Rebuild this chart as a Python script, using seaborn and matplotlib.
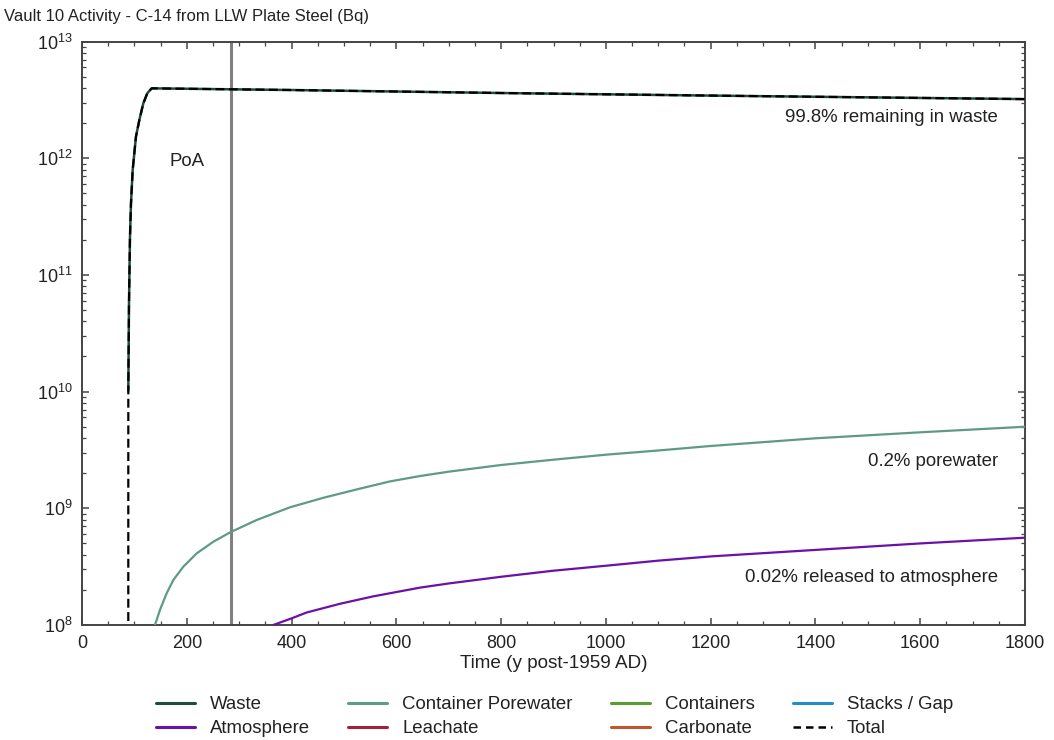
import numpy as np
import pandas as pd
import matplotlib
matplotlib.use("Agg")
import matplotlib.pyplot as plt
import seaborn as sns
from matplotlib.lines import Line2D
from matplotlib.ticker import LogLocator, MultipleLocator, NullFormatter

# ---- data ----
waste_years = [88.4, 89.7, 91.6, 93.5, 96.7, 103, 109.4, 117, 124.6, 133, 400, 800, 1200, 1800]
waste_vals = [1.02e10, 5.7e10, 2.12e11, 4.1e11, 7.9e11, 1.53e12, 2.12e12, 2.95e12, 3.6e12, 3.97e12,
              3.84e12, 3.62e12, 3.44e12, 3.21e12]

total_years = [88.3, 88.4, 89.7, 91.6, 93.5, 96.7, 103, 109.4, 117, 124.6, 133, 400, 800, 1200, 1800]
total_vals = [1e6, 1.02e10, 5.7e10, 2.12e11, 4.1e11, 7.9e11, 1.53e12, 2.12e12, 2.95e12, 3.6e12, 3.97e12,
              3.84e12, 3.62e12, 3.44e12, 3.21e12]

pore_years = [139.3, 148.9, 161.6, 174.3, 193.4, 218.9, 250.6, 283, 333.4, 397, 460.5, 524, 587.8,
              645, 700, 800, 900, 1000, 1100, 1200, 1400, 1600, 1800]
pore_vals = [1.0e8, 1.35e8, 1.87e8, 2.43e8, 3.16e8, 4.11e8, 5.17e8, 6.23e8, 7.94e8, 1.02e9, 1.23e9,
             1.45e9, 1.70e9, 1.89e9, 2.06e9, 2.35e9, 2.61e9, 2.88e9, 3.13e9, 3.42e9, 3.98e9, 4.48e9,
             5.0e9]

atm_years = [365, 400, 428.8, 492.4, 556, 645, 700, 800, 900, 1000, 1100, 1200, 1400, 1600, 1800]
atm_vals = [1.0e8, 1.14e8, 1.28e8, 1.52e8, 1.76e8, 2.09e8, 2.27e8, 2.59e8, 2.92e8, 3.22e8, 3.56e8,
            3.87e8, 4.4e8, 5.0e8, 5.6e8]

legend_labels = ["Waste", "Atmosphere", "Container Porewater", "Leachate",
                 "Containers", "Carbonate", "Stacks / Gap", "Total"]
poa_year = 284

title = "Vault 10 Activity - C-14 from LLW Plate Steel (Bq)"
xlabel = "Time (y post-1959 AD)"

# ---- style ----
sns.set_theme(style="ticks")
plt.rcParams["font.family"] = ["Liberation Sans", "DejaVu Sans"]
plt.rcParams["mathtext.fontset"] = "custom"
plt.rcParams["mathtext.rm"] = "Liberation Sans"
plt.rcParams["mathtext.it"] = "Liberation Sans"
plt.rcParams["mathtext.default"] = "regular"

colors = {
    "Waste": "#1e4d3e",
    "Container Porewater": "#5f9a88",
    "Containers": "#5a9e32",
    "Stacks / Gap": "#1f8fc6",
    "Atmosphere": "#6d10a8",
    "Leachate": "#a3213f",
    "Carbonate": "#c0572b",
    "Total": "black",
}

fig = plt.figure(figsize=(10.54, 7.40), dpi=100)
ax = fig.add_axes([0.0778, 0.1554, 0.9725 - 0.0778, 0.9439 - 0.1554])

ax.axvline(poa_year, color="#808080", lw=2.2, zorder=1)

sns.lineplot(x=pore_years, y=pore_vals, ax=ax, color=colors["Container Porewater"], lw=1.6,
             sort=False, estimator=None, zorder=3)
sns.lineplot(x=atm_years, y=atm_vals, ax=ax, color=colors["Atmosphere"], lw=1.6,
             sort=False, estimator=None, zorder=3)
sns.lineplot(x=waste_years, y=waste_vals, ax=ax, color=colors["Waste"], lw=1.8,
             sort=False, estimator=None, zorder=4)
sns.lineplot(x=total_years, y=total_vals, ax=ax, color="black", lw=1.6, linestyle=(0, (4, 2)),
             sort=False, estimator=None, zorder=5)

ax.set_yscale("log")
ax.set_xlim(0, 1800)
ax.set_ylim(1e8, 1e13)
ax.xaxis.set_major_locator(MultipleLocator(200))
ax.xaxis.set_minor_locator(MultipleLocator(50))
ax.yaxis.set_major_locator(LogLocator(base=10, numticks=10))
ax.yaxis.set_minor_locator(LogLocator(base=10, subs=np.arange(2, 10), numticks=20))
ax.yaxis.set_minor_formatter(NullFormatter())

for s in ax.spines.values():
    s.set_visible(True)
    s.set_color("#444444")
    s.set_linewidth(1.4)

ax.tick_params(which="both", direction="in", top=True, right=True, colors="#444444",
               labelcolor="#222222")
ax.tick_params(which="major", length=5, width=1.1, labelsize=13, pad=7)
ax.tick_params(which="minor", length=3, width=0.9)
ax.grid(False)

ax.set_xlabel(xlabel, fontsize=13.6, color="#222222", labelpad=2)
ax.set_ylabel("")

fig.text(0.004, 1 - 17 / 740, title, ha="left", va="center", fontsize=12, color="#222222")

ax.text(200, 9.4e11, "PoA", ha="center", va="center", fontsize=13.4, color="#222222")
ax.text(1748, 2.25e12, "99.8% remaining in waste", ha="right", va="center", fontsize=13.4,
        color="#222222")
ax.text(1748, 2.54e9, "0.2% porewater", ha="right", va="center", fontsize=13.4, color="#222222")
ax.text(1748, 2.53e8, "0.02% released to atmosphere", ha="right", va="center", fontsize=13.4,
        color="#222222")

handles = []
for lab in legend_labels:
    if lab == "Total":
        handles.append(Line2D([], [], color="black", lw=1.8, linestyle=(0, (3, 2))))
    else:
        handles.append(Line2D([], [], color=colors[lab], lw=2.2))

fig.legend(handles, legend_labels, loc="upper center", bbox_to_anchor=(0.526, 0.082), ncol=4,
           frameon=False, fontsize=13.4, handlelength=2.1, handletextpad=0.8,
           columnspacing=2.05, labelspacing=0.38, labelcolor="#222222")

fig.savefig("out.png", dpi=100, facecolor="white")
